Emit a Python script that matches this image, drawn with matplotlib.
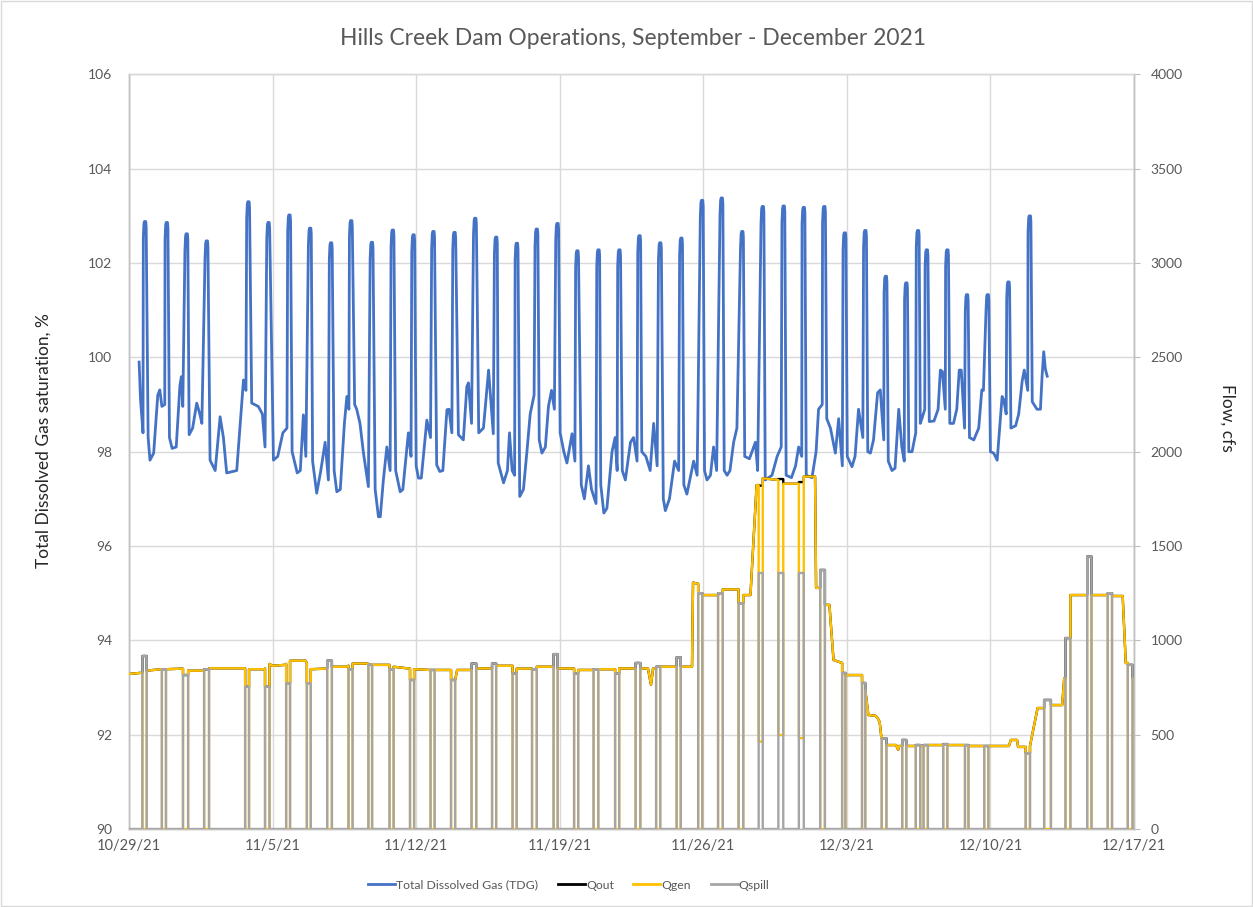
import numpy as np
import matplotlib
matplotlib.use("Agg")
import matplotlib.pyplot as plt
from matplotlib.lines import Line2D
from matplotlib.patches import Rectangle

plt.rcParams['font.family'] = ['Lato', 'DejaVu Sans']

# ---------------- data ----------------
x_tick_days = [0, 7, 14, 21, 28, 35, 42, 49]
x_tick_labels = ['10/29/21', '11/5/21', '11/12/21', '11/19/21', '11/26/21',
                 '12/3/21', '12/10/21', '12/17/21']

# TDG spikes (days after 10/29/21, peak %)
spike_t = [0.78, 1.84, 2.81, 3.79, 5.82, 6.80, 7.82, 8.83, 9.85, 10.83, 11.84, 12.86,
           13.87, 14.84, 15.87, 16.88, 17.90, 18.91, 19.88, 20.89, 21.86, 22.89, 23.91,
           24.89, 25.90, 26.93, 27.94, 28.90, 29.90, 30.90, 31.92, 32.90, 33.90, 34.90,
           35.90, 36.90, 37.90, 38.47, 38.90, 39.90, 40.86, 41.87, 42.88, 43.92]
spike_peak = [102.88, 102.86, 102.62, 102.47, 103.30, 102.86, 103.02, 102.74, 102.43,
              102.90, 102.44, 102.70, 102.60, 102.67, 102.65, 102.95, 102.55, 102.42,
              102.72, 102.84, 102.26, 102.28, 102.28, 102.58, 102.43, 102.53, 103.33,
              103.38, 102.67, 103.20, 103.21, 103.18, 103.20, 102.64, 102.69, 101.72,
              101.58, 102.69, 102.28, 102.28, 101.33, 101.33, 101.60, 103.00]

# TDG between spikes (day, %)
tdg_t = [0.49, 0.56, 0.68,
         0.93, 1.02, 1.2, 1.4, 1.5, 1.6, 1.74,
         1.97, 2.1, 2.3, 2.48, 2.55, 2.62, 2.72,
         2.93, 3.1, 3.3, 3.45, 3.55, 3.7,
         3.95, 4.2, 4.44, 4.6, 4.76, 5.25, 5.58, 5.7,
         5.98, 6.3, 6.5, 6.63, 6.72,
         7.04, 7.25, 7.5, 7.7,
         7.95, 8.2, 8.35, 8.5, 8.62, 8.74,
         8.95, 9.15, 9.35, 9.56, 9.72,
         10.0, 10.13, 10.3, 10.5, 10.62, 10.72,
         11.0, 11.1, 11.26, 11.43, 11.67, 11.76,
         12.0, 12.16, 12.25, 12.4, 12.57, 12.73,
         13.0, 13.22, 13.35, 13.62, 13.75,
         14.0, 14.11, 14.25, 14.52, 14.7,
         15.0, 15.15, 15.3, 15.5, 15.6, 15.74,
         16.06, 16.3, 16.47, 16.55, 16.7,
         17.05, 17.28, 17.53, 17.62, 17.76,
         18.0, 18.26, 18.45, 18.55, 18.68, 18.8,
         19.05, 19.23, 19.4, 19.56, 19.75,
         20.0, 20.13, 20.3, 20.45, 20.6, 20.74,
         21.02, 21.2, 21.35, 21.6, 21.74,
         22.05, 22.2, 22.4, 22.55, 22.77,
         23.0, 23.15, 23.3, 23.55, 23.7, 23.8,
         24.05, 24.2, 24.45, 24.6, 24.77,
         25.0, 25.2, 25.41, 25.58, 25.75,
         26.05, 26.15, 26.35, 26.6, 26.8,
         27.05, 27.2, 27.53, 27.7, 27.85,
         28.06, 28.18, 28.35, 28.5, 28.65, 28.8,
         29.02, 29.16, 29.3, 29.48, 29.64, 29.8,
         30.02, 30.25, 30.54, 30.65, 30.8,
         31.02, 31.35, 31.6, 31.8,
         32.04, 32.3, 32.5, 32.65, 32.8,
         33.02, 33.3, 33.5, 33.62, 33.8,
         34.02, 34.2, 34.44, 34.6, 34.78,
         35.02, 35.25, 35.4, 35.57, 35.78,
         36.02, 36.15, 36.3, 36.5, 36.63, 36.8,
         37.02, 37.2, 37.35, 37.53, 37.68, 37.8,
         38.02, 38.18, 38.36,
         38.58, 38.66, 38.8,
         39.02, 39.25, 39.45, 39.56, 39.66, 39.8,
         40.02, 40.2, 40.36, 40.48, 40.58, 40.74,
         40.98, 41.19, 41.43, 41.58, 41.66, 41.78,
         42.0, 42.16, 42.33, 42.57, 42.65, 42.77,
         43.0, 43.23, 43.38, 43.55, 43.65, 43.82,
         44.04, 44.27, 44.44, 44.52, 44.6, 44.68, 44.77]
tdg_v = [99.9, 99.1, 98.4,
         98.3, 97.82, 97.97, 99.2, 99.31, 98.96, 99.0,
         98.3, 98.07, 98.1, 99.4, 99.59, 98.96, 99.0,
         98.36, 98.5, 99.03, 98.8, 98.6, 98.7,
         97.82, 97.6, 98.74, 98.3, 97.55, 97.6, 99.52, 99.3,
         99.03, 98.96, 98.8, 98.1, 98.3,
         97.82, 97.9, 98.4, 98.5,
         98.0, 97.55, 97.6, 98.78, 97.9, 98.3,
         97.8, 97.12, 97.6, 98.2, 97.4,
         97.6, 97.15, 97.2, 98.6, 99.17, 98.9,
         99.0, 98.9, 98.6, 97.97, 97.26, 97.8,
         97.2, 96.62, 96.62, 97.4, 98.1, 97.6,
         97.6, 97.15, 97.2, 98.4, 97.9,
         97.7, 97.44, 97.44, 98.67, 98.3,
         97.72, 97.58, 97.6, 98.89, 98.9, 98.4,
         98.36, 98.25, 99.38, 99.46, 98.6,
         98.4, 98.5, 99.73, 99.2, 98.38,
         97.76, 97.34, 97.6, 98.4, 97.6, 97.5,
         97.05, 97.2, 98.0, 98.8, 99.2,
         98.25, 97.97, 98.1, 98.96, 99.3, 98.9,
         98.4, 98.0, 97.76, 98.38, 97.8,
         97.3, 97.0, 97.7, 97.2, 96.9,
         97.3, 96.7, 96.8, 98.0, 98.3, 97.6,
         97.6, 97.4, 98.2, 98.3, 97.8,
         98.0, 97.9, 97.6, 98.6, 97.7,
         97.0, 96.75, 97.0, 97.8, 97.6,
         97.3, 97.1, 97.8, 97.5, 97.4,
         97.6, 97.4, 97.5, 98.1, 97.6, 97.5,
         97.6, 97.5, 97.6, 98.2, 98.5, 98.0,
         97.9, 97.85, 98.2, 97.6, 97.7,
         97.4, 97.5, 97.9, 98.1,
         97.5, 97.45, 97.7, 98.1, 97.9,
         97.5, 97.45, 98.0, 98.9, 99.0,
         98.7, 98.5, 97.97, 98.7, 97.7,
         97.9, 97.68, 97.9, 98.9, 98.3,
         98.0, 97.97, 98.25, 99.25, 99.31, 98.25,
         97.8, 97.6, 97.65, 98.9, 98.1, 97.8,
         98.0, 98.0, 98.4,
         98.6, 98.7, 98.9,
         98.64, 98.65, 98.9, 99.73, 99.7, 98.9,
         98.6, 98.6, 98.9, 99.73, 99.73, 98.5,
         98.3, 98.25, 98.5, 99.31, 99.3, 98.3,
         98.0, 97.97, 97.82, 99.17, 99.1, 98.8,
         98.5, 98.55, 98.8, 99.5, 99.73, 99.3,
         99.06, 98.9, 98.9, 99.6, 100.12, 99.75, 99.6]

# Qgen outside spill periods (day, cfs)
gen_t = [0.0, 0.6, 0.9, 1.6, 1.8, 2.6, 2.9, 3.6, 3.9, 5.6, 5.85, 6.6, 6.85, 7.0, 7.6,
         7.85, 8.6, 8.86, 9.6, 9.9, 10.6, 10.9, 11.6, 11.85, 12.7, 12.9, 13.7, 13.9, 14.7,
         14.9, 15.7, 15.9, 16.0, 16.7, 16.93, 17.7, 17.9, 18.7, 18.9, 19.65, 19.88, 20.7,
         20.9, 21.7, 21.9, 22.65, 22.88, 23.7, 23.9, 24.7, 24.93, 25.3, 25.45, 25.55, 25.7,
         25.9, 26.7, 26.9, 27.45, 27.5, 27.75, 27.95, 28.72, 28.95, 29.72, 29.95, 30.3,
         30.6, 30.7, 30.9, 31.66, 31.9, 32.66, 32.9, 33.45, 33.5, 33.7, 33.93, 34.15,
         34.35, 34.77, 34.93, 35.74, 35.9, 36.05, 36.4, 36.5, 36.6, 36.68, 36.7, 36.93,
         37.4, 37.5, 37.55, 37.7, 37.9, 38.36, 38.58, 38.74, 38.95, 39.7, 39.9, 40.76,
         40.93, 41.7, 41.9, 42.9, 43.0, 43.3, 43.35, 43.72, 43.93, 44.15, 44.3, 44.7,
         44.95, 45.5, 45.6, 45.66, 45.9, 46.72, 46.93, 47.72, 47.93, 48.45, 48.6, 48.7,
         48.93, 49.0]
gen_v = [822, 828, 840, 847, 847, 850, 839, 839, 852, 852, 847, 847, 875, 865, 870,
         892, 892, 847, 850, 860, 860, 877, 877, 870, 870, 860, 850, 847, 843,
         843, 843, 790, 843, 843, 851, 851, 865, 865, 850, 850, 860, 860,
         851, 851, 843, 843, 847, 847, 851, 851, 851, 851, 765, 851, 851,
         860, 860, 860, 860, 1306, 1300, 1240, 1240, 1270, 1270, 1240, 1240,
         1823, 1823, 1859, 1850, 1830, 1830, 1868, 1868, 1278, 1278, 1188, 1188,
         896, 880, 816, 816, 737, 604, 600, 588, 567, 489, 489, 445,
         445, 420, 440, 440, 440, 440, 440, 440, 445, 445, 445, 445,
         440, 440, 440, 440, 472, 472, 435, 435, 440, 560, 641, 641,
         657, 657, 800, 800, 1240, 1240, 1240, 1240, 1235, 1235, 880, 880,
         800, 800]

# Spill events: start/end day, Qspill (cfs), Qgen during the spill (cfs)
spill_start = [0.65, 1.60, 2.63, 3.66, 5.66, 6.63, 7.66, 8.67, 9.66, 10.70, 11.67, 12.70,
               13.70, 14.70, 15.70, 16.70, 17.70, 18.70, 19.65, 20.70, 21.70, 22.65, 23.70,
               24.70, 25.70, 26.70, 27.75, 28.72, 29.72, 30.70, 31.66, 32.66, 33.70, 34.77,
               35.74, 36.70, 37.70, 38.36, 38.74, 39.70, 40.76, 41.70, 43.72, 44.62, 45.66,
               46.72, 47.72, 48.70]
spill_end = [0.86, 1.80, 2.88, 3.90, 5.85, 6.85, 7.85, 8.86, 9.89, 10.90, 11.85, 12.90,
             13.90, 14.90, 15.90, 16.93, 17.90, 18.90, 19.88, 20.90, 21.90, 22.88, 23.90,
             24.93, 25.90, 26.90, 27.95, 28.95, 29.95, 30.90, 31.90, 32.90, 33.93, 34.93,
             35.90, 36.93, 37.90, 38.58, 38.95, 39.90, 40.93, 41.90, 43.93, 44.95, 45.90,
             46.93, 47.93, 48.93]
spill_q = [917, 847, 816, 847, 754, 754, 773, 773, 892, 847, 870, 847,
           790, 843, 790, 877, 877, 825, 847, 927, 825, 847, 825,
           880, 860, 910, 1250, 1250, 1197, 1357, 1357, 1357, 1373, 827,
           774, 481, 472, 445, 445, 450, 445, 440, 402, 684, 1012,
           1444, 1250, 870]
gen_during_spill = [0] * 29 + [463, 498, 482] + [0] * 16

# ---------------- build series ----------------
pts = [(t, v) for t, v in zip(tdg_t, tdg_v)
       if not any(s - 0.1 < t < s + 0.08 for s in spike_t)]
for s, p in zip(spike_t, spike_peak):
    pts += [(s - 0.085, p - 0.35), (s - 0.055, p - 0.05), (s - 0.03, p),
            (s + 0.035, p), (s + 0.055, p - 0.12)]
pts.sort()
tdg_x = np.array([a for a, b in pts])
tdg_y = np.array([b for a, b in pts])

gen_t_a = np.array(gen_t, float)
gen_v_a = np.array(gen_v, float)


def build_flow(kind):
    verts = list(zip(gen_t, gen_v)) if kind != 'spill' else [(0.0, 0.0), (49.0, 0.0)]
    extra = []
    for a, b, q, g in zip(spill_start, spill_end, spill_q, gen_during_spill):
        ba = float(np.interp(a, gen_t_a, gen_v_a))
        bb = float(np.interp(b, gen_t_a, gen_v_a))
        if kind == 'gen':
            extra += [(a, ba), (a + 1e-4, g), (b - 1e-4, g), (b, bb)]
        elif kind == 'out':
            extra += [(a, ba), (a + 1e-4, g + q), (b - 1e-4, g + q), (b, bb)]
        else:
            extra += [(a, 0), (a + 1e-4, q), (b - 1e-4, q), (b, 0)]
    keep = [(t, v) for (t, v) in verts
            if not any(a < t < b for a, b in zip(spill_start, spill_end))]
    allp = sorted(keep + extra)
    return np.array([p[0] for p in allp]), np.array([p[1] for p in allp])


out_x, out_y = build_flow('out')
gen_x, gen_y = build_flow('gen')
spl_x, spl_y = build_flow('spill')

# ---------------- plot ----------------
C_TDG = '#4472C4'
C_OUT = '#000000'
C_GEN = '#FFC000'
C_SPL = '#A5A5A5'
TXT = '#595959'
GRID = '#D9D9D9'

fig = plt.figure(figsize=(12.53, 9.07), dpi=100)
ax = fig.add_axes([0.103, 0.086, 0.802, 0.832])
ax2 = ax.twinx()

ax.plot(tdg_x, tdg_y, color=C_TDG, lw=2.0, solid_joinstyle='round', zorder=3)
ax2.plot(out_x, out_y, color=C_OUT, lw=1.7, zorder=2)
ax2.plot(gen_x, gen_y, color=C_GEN, lw=1.7, zorder=3)
ax2.plot(spl_x, spl_y, color=C_SPL, lw=1.7, zorder=4)

ax.set_xlim(0, 49)
ax.set_ylim(90, 106)
ax2.set_ylim(0, 4000)
ax.set_yticks(np.arange(90, 107, 2))
ax2.set_yticks(np.arange(0, 4001, 500))
ax.set_xticks(x_tick_days)
ax.set_xticklabels(x_tick_labels)

ax.grid(True, color=GRID, lw=1.0, zorder=0)
ax.set_axisbelow(True)

for a in (ax, ax2):
    for sp in a.spines.values():
        sp.set_color('#BFBFBF')
        sp.set_linewidth(1.0)
    a.spines['top'].set_color(GRID)

ax.tick_params(axis='y', length=0, pad=12, labelsize=10, labelcolor=TXT)
ax.tick_params(axis='x', length=0, pad=7, labelsize=10.5, labelcolor=TXT)
ax2.tick_params(axis='y', length=4, direction='out', color='#BFBFBF', pad=8,
                labelsize=10, labelcolor=TXT)

ax.set_ylabel('Total Dissolved Gas saturation, %', fontsize=12.5, color='#262626',
              labelpad=26)
ax2.set_ylabel('Flow, cfs', fontsize=12.5, color='#262626', rotation=270,
               labelpad=38)
ax.yaxis.label.set_y(0.515)
ax2.yaxis.label.set_y(0.545)

fig.text(0.505, 0.958, 'Hills Creek Dam Operations, September - December 2021',
         ha='center', va='center', fontsize=16.5, color=TXT)

handles = [Line2D([], [], color=c, lw=2) for c in (C_TDG, C_OUT, C_GEN, C_SPL)]
labels = ['Total Dissolved Gas (TDG)', 'Qout', 'Qgen', 'Qspill']
fig.legend(handles, labels, loc='center', bbox_to_anchor=(0.454, 0.024), ncol=4,
           frameon=False, fontsize=8.8, handlelength=2.2, columnspacing=1.6,
           handletextpad=0.1, labelcolor=TXT)

fig.add_artist(Rectangle((0.0008, 0.001), 0.9984, 0.998, transform=fig.transFigure,
                         fill=False, ec=GRID, lw=1))

fig.savefig('out.png', dpi=100)
